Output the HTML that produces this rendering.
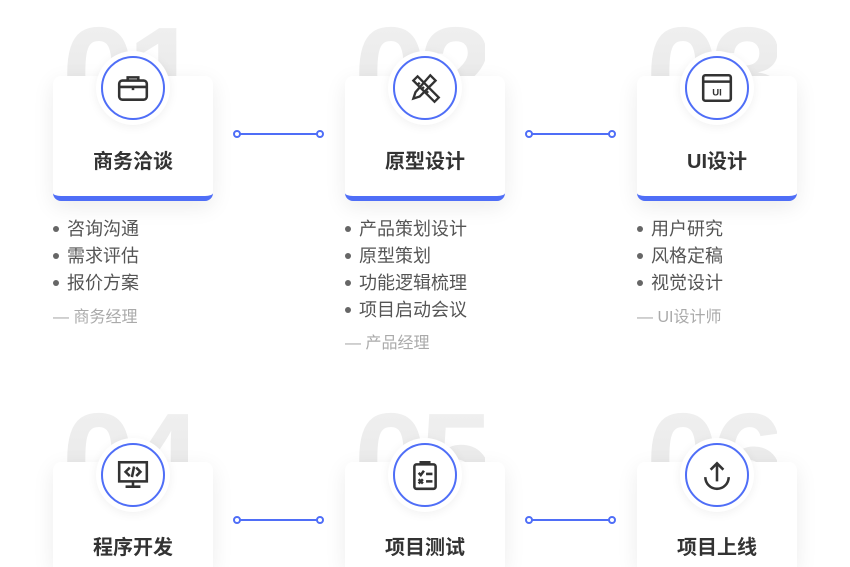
<!DOCTYPE html>
<html style="width:850px;height:567px;overflow:hidden"><head><meta charset="utf-8"><style>
body{margin:0;width:850px;height:567px;background:#fff;position:relative;overflow:hidden;font-family:"Liberation Sans","Noto Sans CJK SC",sans-serif}
.num{position:absolute;font:bold 132px "Liberation Sans",sans-serif;letter-spacing:-8px;line-height:1;background:linear-gradient(#f1f1f1,#e4e4e4);-webkit-background-clip:text;color:transparent}
.card{position:absolute;width:160px;height:120px;background:#fff;border-radius:8px;border-bottom:5px solid #4f6ef7;box-shadow:0 6px 22px rgba(0,0,0,.08)}
.card.nb{border-bottom:none;height:105px;border-radius:8px 8px 0 0}
.circ{position:absolute;width:74px;height:74px;border-radius:50%;background:#fff;box-shadow:0 2px 10px rgba(0,0,0,.06)}
.circ .r{position:absolute;left:5px;top:5px;width:60px;height:60px;border:2px solid #4f6ef7;border-radius:50%;display:flex;align-items:center;justify-content:center}
.t{position:absolute;width:160px;text-align:center;font-size:20px;font-weight:bold;color:#333;line-height:24px}
.ln{position:absolute;height:2px;background:#4f6ef7}
.ln:before,.ln:after{content:"";position:absolute;top:-3px;width:4px;height:4px;border:2px solid #4f6ef7;border-radius:50%;background:#fff}
.ln:before{left:-4px}.ln:after{right:-4px}
.ul{position:absolute;font-size:18px;color:#555;line-height:27px}
.ul div:before{content:"";display:inline-block;width:6px;height:6px;border-radius:50%;background:#666;margin:0 8px 3px 1px;vertical-align:middle}
.role{position:absolute;font-size:16px;color:#aaa;line-height:20px}
</style></head><body>
<div class="num" style="left:62px;top:8px">01</div>
<div class="num" style="left:354px;top:8px">02</div>
<div class="num" style="left:646px;top:8px">03</div>
<div class="num" style="left:62px;top:394px">04</div>
<div class="num" style="left:354px;top:394px">05</div>
<div class="num" style="left:646px;top:394px">06</div>

<div class="card" style="left:53px;top:76px"></div>
<div class="card" style="left:345px;top:76px"></div>
<div class="card" style="left:637px;top:76px"></div>
<div class="card nb" style="left:53px;top:462px"></div>
<div class="card nb" style="left:345px;top:462px"></div>
<div class="card nb" style="left:637px;top:462px"></div>

<div class="circ" style="left:96px;top:51px"><div class="r"><svg width="34" height="34" viewBox="0 0 32 32" fill="none" stroke="#333" stroke-width="2.4"><rect x="3" y="9" width="26" height="18" rx="3"/><path d="M11 9V6h10v3M3 15h26M16 15v3"/></svg></div></div>
<div class="circ" style="left:388px;top:51px"><div class="r"><svg width="36" height="36" viewBox="0 0 34 34" fill="none" stroke="#333" stroke-width="2.2"><path d="M6 10l4-4 20 20-4 4zM10 14l2-2M14 18l2-2M18 22l2-2"/><path d="M22 5l5 5-15 15-6 2 2-6z"/></svg></div></div>
<div class="circ" style="left:680px;top:51px"><div class="r"><svg width="34" height="34" viewBox="0 0 32 32" fill="none" stroke="#333" stroke-width="2.4"><rect x="3" y="4" width="26" height="24" rx="2"/><path d="M3 10h26"/><text x="16" y="23" font-size="9" font-weight="bold" text-anchor="middle" fill="#333" stroke="none" font-family="Liberation Sans">UI</text></svg></div></div>
<div class="circ" style="left:96px;top:438px"><div class="r"><svg width="34" height="34" viewBox="0 0 32 32" fill="none" stroke="#333" stroke-width="2.4"><rect x="3" y="4" width="26" height="18"/><path d="M16 22v5M9 27h14M13 9l-4 4 4 4M19 9l4 4-4 4M17 8l-2 10"/></svg></div></div>
<div class="circ" style="left:388px;top:438px"><div class="r"><svg width="34" height="34" viewBox="0 0 32 32" fill="none" stroke="#333" stroke-width="2.4"><rect x="6" y="6" width="20" height="23" rx="2"/><path d="M12 6V4h8v2M10 14l2 2 3-4M17 15h6M10 20l4 4M14 20l-4 4M17 22h6"/></svg></div></div>
<div class="circ" style="left:680px;top:438px"><div class="r"><svg width="34" height="34" viewBox="0 0 32 32" fill="none" stroke="#333" stroke-width="2.4"><path d="M16 22V5M10 11l6-6 6 6M5 18a11 11 0 0 0 22 0"/></svg></div></div>

<div class="t" style="left:53px;top:150px">商务洽谈</div>
<div class="t" style="left:345px;top:150px">原型设计</div>
<div class="t" style="left:637px;top:150px">UI设计</div>
<div class="t" style="left:53px;top:536px">程序开发</div>
<div class="t" style="left:345px;top:536px">项目测试</div>
<div class="t" style="left:637px;top:536px">项目上线</div>

<div class="ln" style="left:237px;top:133px;width:83px"></div>
<div class="ln" style="left:529px;top:133px;width:83px"></div>
<div class="ln" style="left:237px;top:519px;width:83px"></div>
<div class="ln" style="left:529px;top:519px;width:83px"></div>

<div class="ul" style="left:52px;top:216px"><div>咨询沟通</div><div>需求评估</div><div>报价方案</div></div>
<div class="role" style="left:53px;top:308px">— 商务经理</div>
<div class="ul" style="left:344px;top:216px"><div>产品策划设计</div><div>原型策划</div><div>功能逻辑梳理</div><div>项目启动会议</div></div>
<div class="role" style="left:345px;top:334px">— 产品经理</div>
<div class="ul" style="left:636px;top:216px"><div>用户研究</div><div>风格定稿</div><div>视觉设计</div></div>
<div class="role" style="left:637px;top:308px">— UI设计师</div>
</body></html>
